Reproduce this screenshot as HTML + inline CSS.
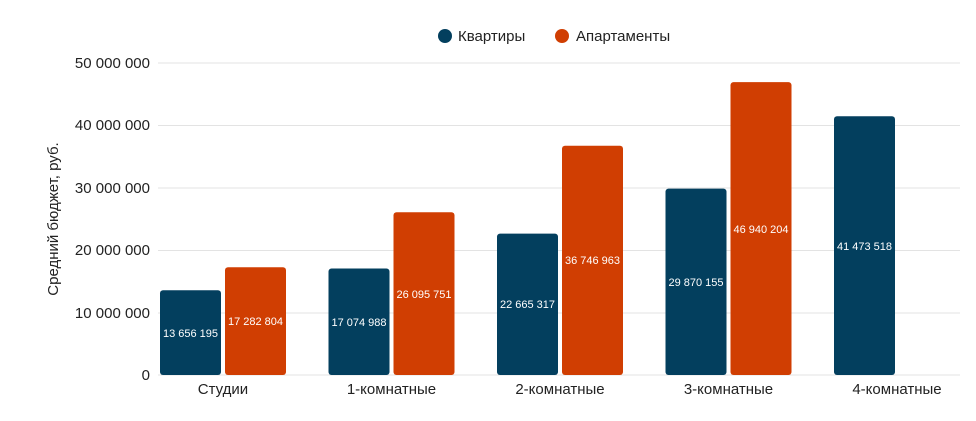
<!DOCTYPE html>
<html><head><meta charset="utf-8"><style>
body{margin:0;background:#fff;}
svg text{font-family:"Liberation Sans",sans-serif;}
</style></head><body>
<svg width="976" height="416" xmlns="http://www.w3.org/2000/svg">
<circle cx="445" cy="36" r="7" fill="#033f5e"/>
<text x="458" y="41" font-size="15" fill="#222">Квартиры</text>
<circle cx="562" cy="36" r="7" fill="#d03e02"/>
<text x="576" y="41" font-size="15" fill="#222">Апартаменты</text>
<g stroke="#e3e3e3" stroke-width="1">
<line x1="158" x2="960" y1="63" y2="63"/><line x1="158" x2="960" y1="125.5" y2="125.5"/>
<line x1="158" x2="960" y1="188" y2="188"/><line x1="158" x2="960" y1="250.5" y2="250.5"/>
<line x1="158" x2="960" y1="313" y2="313"/><line x1="158" x2="960" y1="375" y2="375"/>
</g>
<g font-size="15" fill="#222" text-anchor="end">
<text x="150" y="68">50 000 000</text><text x="150" y="130">40 000 000</text>
<text x="150" y="193">30 000 000</text><text x="150" y="255">20 000 000</text>
<text x="150" y="318">10 000 000</text><text x="150" y="380">0</text>
</g>
<text transform="translate(58,219) rotate(-90)" font-size="15" fill="#222" text-anchor="middle">Средний бюджет, руб.</text>
<g>
<rect x="160" y="290.2" width="61" height="84.8" rx="3" fill="#033f5e"/>
<rect x="225" y="267.2" width="61" height="107.8" rx="3" fill="#d03e02"/>
<rect x="328.5" y="268.5" width="61" height="106.5" rx="3" fill="#033f5e"/>
<rect x="393.5" y="212.2" width="61" height="162.8" rx="3" fill="#d03e02"/>
<rect x="497" y="233.6" width="61" height="141.4" rx="3" fill="#033f5e"/>
<rect x="562" y="145.7" width="61" height="229.3" rx="3" fill="#d03e02"/>
<rect x="665.5" y="188.6" width="61" height="186.4" rx="3" fill="#033f5e"/>
<rect x="730.5" y="82.1" width="61" height="292.9" rx="3" fill="#d03e02"/>
<rect x="834" y="116.2" width="61" height="258.8" rx="3" fill="#033f5e"/>
</g>
<g font-size="11" fill="#fff" text-anchor="middle">
<text x="190.5" y="337">13 656 195</text>
<text x="255.5" y="325">17 282 804</text>
<text x="359" y="326">17 074 988</text>
<text x="424" y="298">26 095 751</text>
<text x="527.5" y="308">22 665 317</text>
<text x="592.5" y="264">36 746 963</text>
<text x="696" y="286">29 870 155</text>
<text x="761" y="233">46 940 204</text>
<text x="864.5" y="250">41 473 518</text>
</g>
<g font-size="15" fill="#222" text-anchor="middle">
<text x="223" y="394">Студии</text>
<text x="391.5" y="394">1-комнатные</text>
<text x="560" y="394">2-комнатные</text>
<text x="728.5" y="394">3-комнатные</text>
<text x="897" y="394">4-комнатные</text>
</g>
</svg>
</body></html>
